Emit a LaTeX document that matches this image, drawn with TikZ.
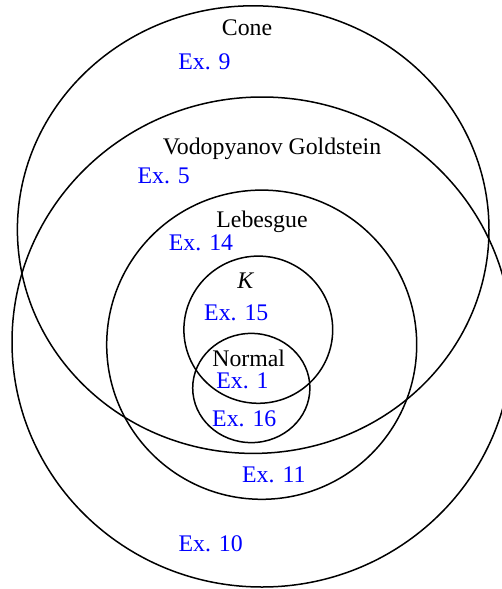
\documentclass[tikz,border=0pt]{standalone}
\usepackage{fontspec}
\setmainfont{Liberation Serif}
\begin{document}
\begin{tikzpicture}[x=0.5pt,y=-0.5pt,
  setline/.style={line width=0.75pt},
  setname/.style={anchor=base,inner sep=0pt,font=\fontsize{11.9}{14}\selectfont},
  exlabel/.style={setname,text={rgb,255:red,0;green,0;blue,255}}]
\useasboundingbox (0,0) rectangle (502,589);
% sets
\draw[setline] (253.2,229.6) ellipse [x radius=117.9pt, y radius=111.9pt];
\draw[setline] (262,342) ellipse [x radius=125pt, y radius=122.5pt];
\draw[setline] (261.7,344.7) ellipse [x radius=77.5pt, y radius=77.3pt];
\draw[setline] (258.3,329.7) ellipse [x radius=37.2pt, y radius=36.8pt];
\draw[setline] (251.3,388) ellipse [x radius=29.3pt, y radius=27.3pt];
% names
\node[setname] (cone) at (247,35) {Cone};
\node[setname] (vg) at (272,154) {Vodopyanov Goldstein};
\node[setname] (leb) at (262,227.3) {Lebesgue};
\node[setname] (k) at (245.7,288.3) {\textit{K}};
\node[setname] (normal) at (248.7,366.7) {Normal};
% examples
\node[exlabel] (ex9) at (204.5,69) {Ex. 9};
\node[exlabel] (ex5) at (163.7,183.3) {Ex. 5};
\node[exlabel] (ex14) at (201,250) {Ex. 14};
\node[exlabel] (ex15) at (236.3,320) {Ex. 15};
\node[exlabel] (ex1) at (242.5,388.2) {Ex. 1};
\node[exlabel] (ex16) at (244.3,426.7) {Ex. 16};
\node[exlabel] (ex11) at (273.8,482.7) {Ex. 11};
\node[exlabel] (ex10) at (210.7,551.7) {Ex. 10};
\end{tikzpicture}
\end{document}
